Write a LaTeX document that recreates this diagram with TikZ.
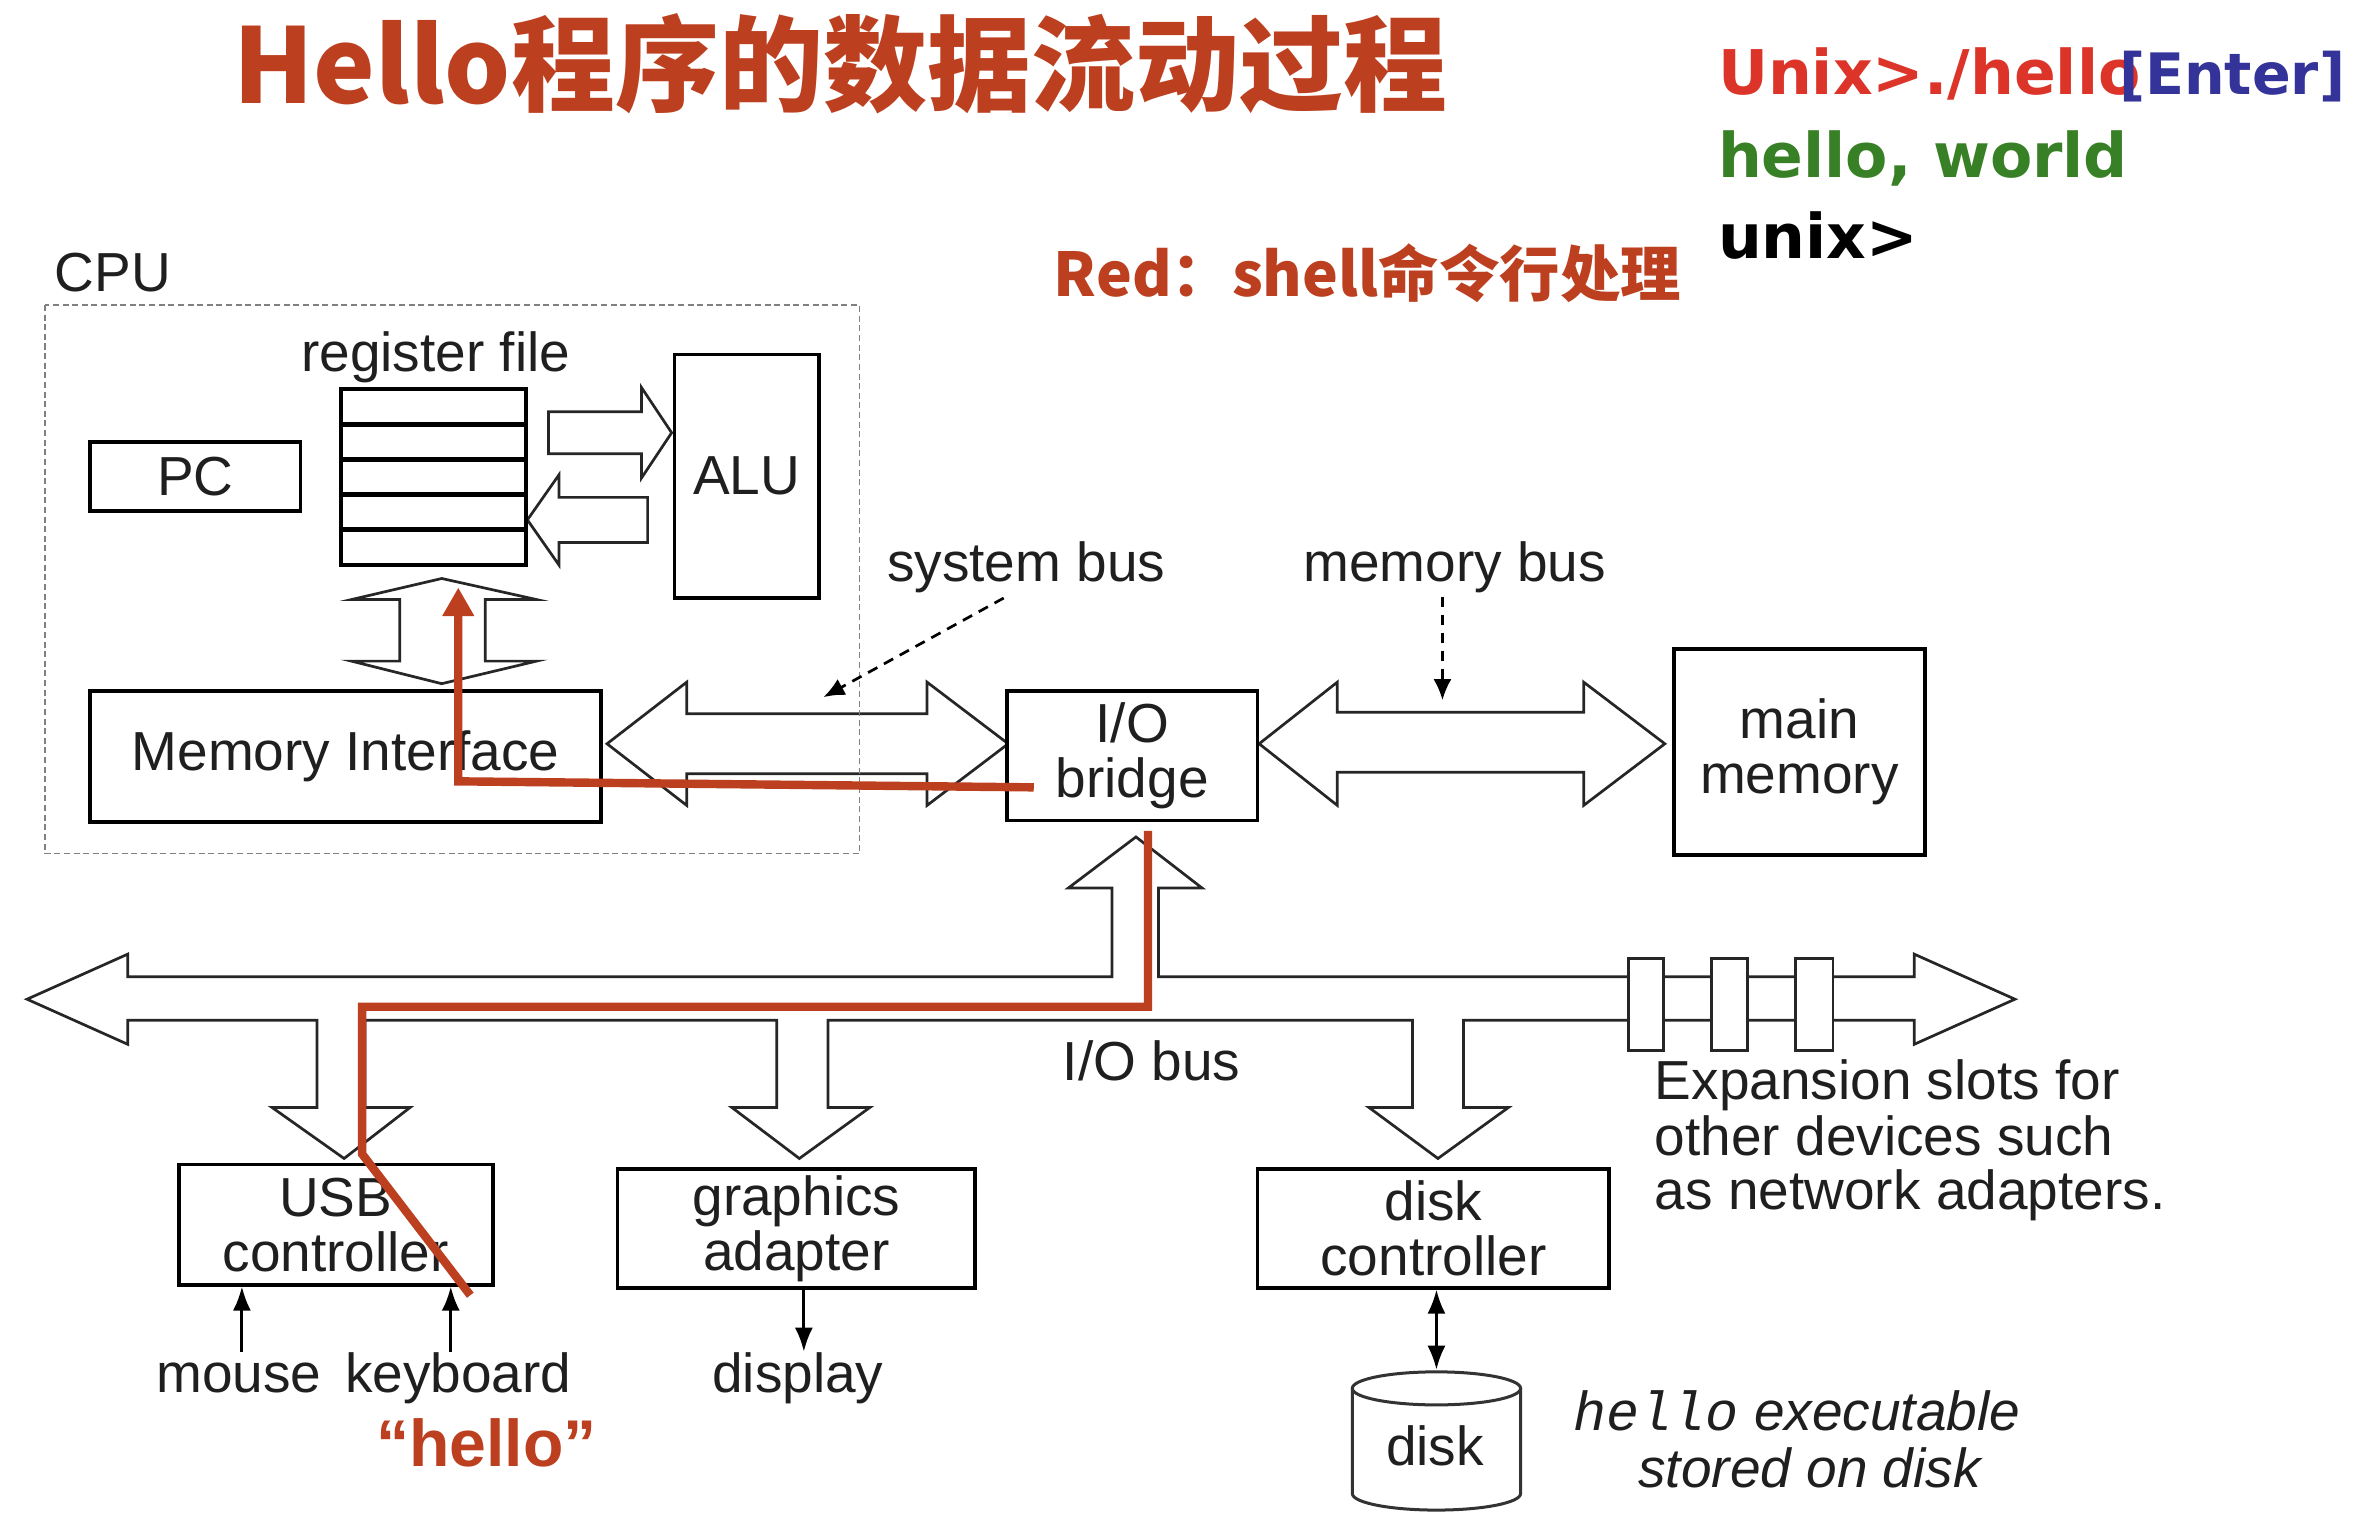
\documentclass[tikz,border=0pt]{standalone}
\usepackage{fontspec}
\setmainfont{Liberation Sans}
\newfontfamily\cjk{Noto Sans CJK SC}
\newfontfamily\dvs{DejaVu Sans}
\newfontfamily\lmono{Liberation Mono}
\usetikzlibrary{arrows.meta}
\definecolor{rust}{RGB}{188,64,32}
\definecolor{unixred}{RGB}{220,52,40}
\definecolor{enterblue}{RGB}{51,51,153}
\definecolor{hwgreen}{RGB}{56,128,37}
\begin{document}
\begin{tikzpicture}[x=0.5pt,y=-0.5pt,
  lbl/.style={inner sep=0, font=\fontsize{18.3}{18.3}\selectfont, text=black!88},
  itl/.style={inner sep=0, font=\itshape\fontsize{18.3}{18.3}\selectfont, text=black!88},
  box/.style={draw=black, line width=1.2pt, inner sep=0, fill=white, font=\fontsize{18.3}{18.3}\selectfont, text=black!88, align=center},
  bigarrow/.style={draw=black!85, line width=0.9pt, fill=white, line join=miter},
  term/.style={inner sep=0, anchor=base west, font=\dvs\bfseries\fontsize{20.5}{24}\selectfont},
  smallarrow/.style={line width=1pt, -{Latex[length=8pt,width=6pt]}},
  pointer/.style={line width=0.9pt, dash pattern=on 3.5pt off 2.5pt, -{Latex[length=7pt,width=6pt]}},
  redline/.style={draw=rust, line width=2.8pt, line join=miter},
  slot/.style={draw=black!85, line width=0.9pt, fill=white}
]
\useasboundingbox (0,0) rectangle (1568,1018);

% ---------- headings ----------
\node[inner sep=0, anchor=base west, text=rust, font=\cjk\bfseries\fontsize{34.6}{40}\selectfont] (title) at (155,69) {Hello程序的数据流动过程};
\node[term, text=unixred] (cmd) at (1143,63) {Unix>./hello};
\node[term, text=enterblue, font=\dvs\bfseries\fontsize{19}{24}\selectfont] (enter) at (1410,63) {[Enter]};
\node[term, text=hwgreen] (hw) at (1143,118) {hello, world};
\node[term, text=black] (prompt) at (1143,172) {unix>};
\node[inner sep=0, anchor=base west, text=rust, font=\cjk\bfseries\fontsize{20.1}{24}\selectfont] (redlbl) at (701,197) {Red：shell命令行处理};

% ---------- big arrows ----------
\draw[bigarrow] (365,274) -- (427,274) -- (427,258) -- (447,288) -- (427,318) -- (427,302) -- (365,302) -- cycle;
\draw[bigarrow] (431,331) -- (372,331) -- (372,316) -- (351,346) -- (372,376) -- (372,361) -- (431,361) -- cycle;
\draw[bigarrow] (294,385) -- (357,399) -- (323,399) -- (323,440) -- (357,440) -- (294,455) -- (234,440) -- (266,440) -- (266,399) -- (234,399) -- cycle;
% system bus
\draw[bigarrow] (404,495) -- (457,454) -- (457,475) -- (617,475) -- (617,454) -- (671,495) -- (617,536) -- (617,515) -- (457,515) -- (457,536) -- cycle;
% memory bus
\draw[bigarrow] (838,495) -- (890,454) -- (890,474) -- (1054,474) -- (1054,454) -- (1108,495) -- (1054,536) -- (1054,514) -- (890,514) -- (890,536) -- cycle;
% I/O bus
\draw[bigarrow] (18,665) -- (85,635) -- (85,650) -- (740,650) -- (740,591) -- (711,591) -- (756,557) -- (800,591) -- (771,591) -- (771,650)
  -- (1274,650) -- (1274,635) -- (1341,665) -- (1274,695) -- (1274,679)
  -- (974,679) -- (974,737) -- (1004,737) -- (957,771) -- (911,737) -- (940,737) -- (940,679)
  -- (551,679) -- (551,737) -- (579,737) -- (532,771) -- (487,737) -- (517,737) -- (517,679)
  -- (243,679) -- (243,737) -- (273,737) -- (229,771) -- (181,737) -- (211,737) -- (211,679)
  -- (85,679) -- (85,695) -- cycle;
\foreach \xa/\xb in {1084/1107,1139/1163,1195/1220}
  \draw[slot] (\xa,638) rectangle (\xb,699);

% ---------- CPU ----------
\node[lbl, anchor=base west] (cpulbl) at (36,194) {CPU};
\node[lbl, anchor=base] (rflbl) at (290,247) {register file};
\node[box, minimum width=70pt, minimum height=23pt] (pc) at (130,317) {PC};
\node[box, minimum width=61.5pt, minimum height=58.5pt] (rf) at (288.5,317.5) {};
\foreach \yy in {282.4,305.8,329.2,352.6}
  \draw[line width=1.7pt] (227,\yy) -- (350,\yy);
\node[box, minimum width=48pt, minimum height=81pt] (alu) at (497,317) {ALU};
\node[box, minimum width=170pt, minimum height=43.5pt] (memif) at (230,503.5) {Memory Interface};
\draw[gray, line width=0.6pt, dash pattern=on 2pt off 1.2pt] (30,203) rectangle (572,568);

% ---------- bridge, memory ----------
\node[box, minimum width=83.5pt, minimum height=43pt] (bridge) at (753.5,503) {\raisebox{-2pt}{I/O}\\\raisebox{-2pt}{bridge}};
\node[box, minimum width=83.5pt, minimum height=68.5pt] (mainmem) at (1197.5,500.5) {main\\memory};
\node[lbl, anchor=base west] (sysbus) at (590,387) {system bus};
\node[lbl, anchor=base west] (membus) at (867,387) {memory bus};
\coordinate (sysp) at (668,398);
\coordinate (sysq) at (548,464);
\coordinate (memp) at (960,397);
\coordinate (memq) at (960,466);
\draw[pointer] (sysp) -- (sysq);
\draw[pointer] (memp) -- (memq);
\node[lbl, anchor=base west] (iobus) at (707,719) {I/O bus};

% ---------- devices ----------
\node[box, minimum width=104.5pt, minimum height=40pt] (usb) at (223.5,815) {USB\\controller};
\node[box, minimum width=119pt, minimum height=39.5pt] (gfx) at (530,817.5) {graphics\\adapter};
\node[box, minimum width=117pt, minimum height=39.5pt] (dctrl) at (954,817.5) {disk\\controller};

\node[lbl, anchor=base, text height=13.5pt] (mouse) at (159,927) {mouse};
\node[lbl, anchor=base, text height=13.5pt] (kbd) at (305,927) {keyboard};
\node[lbl, anchor=base, text height=13.5pt] (disp) at (531,927) {display};
\draw[smallarrow] ([xshift=1pt]mouse.north) -- ([xshift=1pt]mouse.north |- usb.south);
\draw[smallarrow] ([xshift=-2.5pt]kbd.north) -- ([xshift=-2.5pt]kbd.north |- usb.south);
\draw[smallarrow] ([xshift=2.5pt]gfx.south) -- ([xshift=2.5pt]gfx.south |- disp.north);

% disk
\draw[line width=1pt, draw=black!80, fill=white] (900,924) -- (900,994) arc[start angle=180, end angle=0, x radius=56, y radius=11] -- (1012,924);
\draw[line width=1pt, draw=black!80] (956,924) ellipse[x radius=56, y radius=11];
\node[inner sep=0, minimum width=56pt, minimum height=46pt] (disk) at (956,958) {};
\node[lbl, anchor=base] (disktxt) at (955,975) {disk};
\draw[line width=1pt, {Latex[length=8pt,width=6pt]}-{Latex[length=8pt,width=6pt]}] ([xshift=1pt]dctrl.south) -- ([xshift=1pt]dctrl.south |- disk.north);

\node[lbl, anchor=base west] (exp1) at (1101,732) {Expansion slots for};
\node[lbl, anchor=base west] (exp2) at (1101,769) {other devices such};
\node[lbl, anchor=base west] (exp3) at (1101,805) {as network adapters.};
\node[itl, anchor=base west] (exe1) at (1047,952) {{\lmono hello} executable};
\node[itl, anchor=base west] (exe2) at (1090,990) {stored on disk};

\node[inner sep=0, anchor=base west, text=rust, font=\bfseries\fontsize{22}{24}\selectfont] (hq) at (250,976) {“hello”};

% ---------- red data path ----------
\coordinate (rA) at (688,524);
\coordinate (rB) at (305,520);
\coordinate (rC) at (305,391);
\draw[redline, -{Triangle[length=9.5pt,width=10pt]}] (rA) -- (rB) -- (rC);
\coordinate (rD) at (764,553);
\coordinate (rE) at (764,670);
\coordinate (rF) at (241,670);
\coordinate (rG) at (241,768);
\coordinate (rH) at (313,862);
\draw[redline] (rD) -- (rE) -- (rF) -- (rG) -- (rH);
\end{tikzpicture}
\end{document}
